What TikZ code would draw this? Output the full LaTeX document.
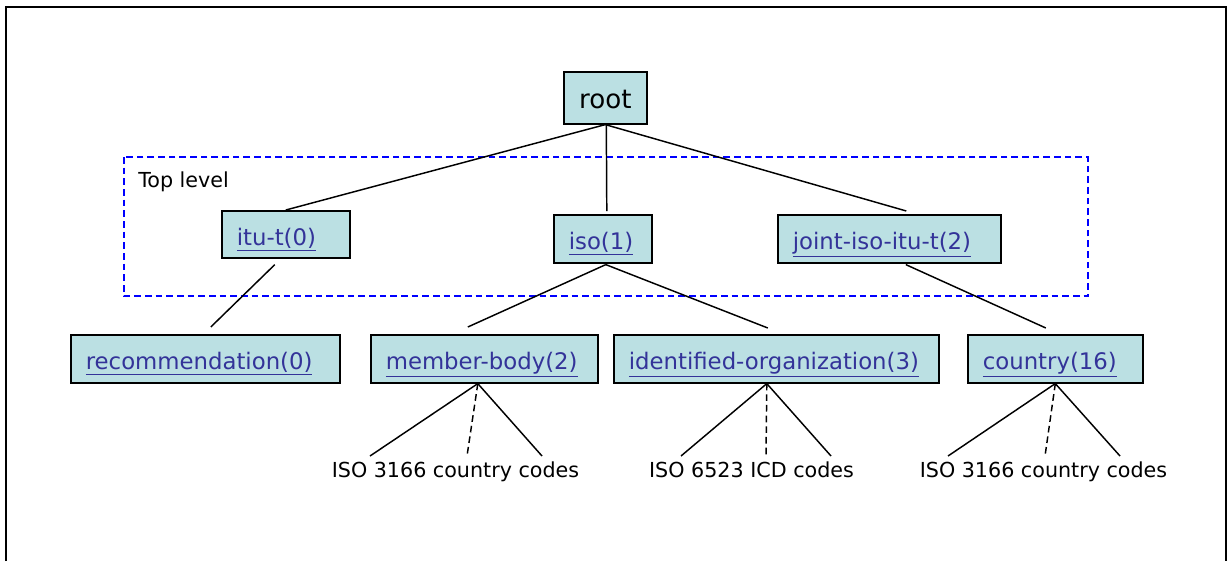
\documentclass[tikz,border=0pt]{standalone}
\usepackage{fontspec}
\setmainfont{DejaVu Sans}
\usepackage{tikz}
\usetikzlibrary{calc, positioning}
\usepackage{xcolor}

\definecolor{oidfill}{HTML}{BBE0E3}
\definecolor{oidlink}{HTML}{333399}
\newcommand{\oidref}[1]{{\color{oidlink}\underline{#1}}}

\begin{document}
\begin{tikzpicture}[x=0.75pt, y=-0.75pt,
            oidbox/.style={
                draw, fill=oidfill,
                line width=1.2pt,
                anchor=north west,
                inner xsep=11.25pt,
                inner ysep=0pt,
                align=left,
                text height=16.5pt,
                text depth=0pt,
                minimum height=36pt,
                font=\fontsize{17.1}{20}\selectfont
            },
            edge/.style={line width=1.1pt},
            hint/.style={line width=1.1pt, dash pattern=on 5pt off 3pt},
            codes/.style={anchor=base, inner sep=0pt, font=\fontsize{15.5}{18}\selectfont}]
    \useasboundingbox (0,0) rectangle (1230,561);
    \draw[line width=1.5pt] (6,561) -- (6,7) -- (1226,7) -- (1226,561);

    % top level frame
    \draw[blue, line width=1.1pt, dash pattern=on 5pt off 3pt] (124,157) rectangle (1088,296);
    \node[codes, anchor=base west] (toplevel) at (138,187) {Top level};

    % nodes
    \node[oidbox, anchor=north west, minimum width=62.25pt, minimum height=39pt, align=center,
          inner xsep=0pt, font=\fontsize{19.6}{22}\selectfont] (root) at (563,71) {root};
    \node[oidbox, text width=73.5pt,  minimum height=35.25pt] (itu) at (221,210) {\oidref{itu-t(0)}};
    \node[oidbox, text width=51pt] (iso) at (553,214) {\oidref{iso(1)}};
    \node[oidbox, text width=144.75pt] (joint) at (777,214) {\oidref{joint-iso-itu-t(2)}};
    \node[oidbox, text width=179.25pt] (rec) at (70,334) {\oidref{recommendation(0)}};
    \node[oidbox, text width=147.75pt] (member) at (370,334) {\oidref{member-body(2)}};
    \node[oidbox, text width=221.25pt] (ident) at (613,334) {\oidref{identified-organization(3)}};
    \node[oidbox, text width=108.75pt] (country) at (967,334) {\oidref{country(16)}};

    \node[codes] (mbcodes) at (455.5,477) {ISO 3166 country codes};
    \node[codes] (iocodes) at (751.5,477) {ISO 6523 ICD codes};
    \node[codes] (cycodes) at (1043.5,477) {ISO 3166 country codes};

    \coordinate (mbl) at (370,456);
    \coordinate (mbm) at (467,456);
    \coordinate (mbr) at (542,456);
    \coordinate (iol) at (681,456);
    \coordinate (iom) at (766,456);
    \coordinate (ior) at (831,456);
    \coordinate (cyl) at (948,456);
    \coordinate (cym) at (1045,456);
    \coordinate (cyr) at (1120,456);

    % connectors
    \draw[edge] (root.south) -- (itu.north);
    \draw[edge] ($(root.south)+(1,0)$) -- ($(iso.north)+(4,-3)$);
    \draw[edge] (root.south) -- ($(joint.north)+(17,-3)$);
    \draw[edge] ($(itu.south)+(-11,6)$) -- ($(rec.north)+(5.5,-7)$);
    \draw[edge] ($(iso.south)+(3,1)$) -- ($(member.north)+(-16.5,-7)$);
    \draw[edge] ($(iso.south)+(3,1)$) -- ($(ident.north)+(-8.5,-6)$);
    \draw[edge] ($(joint.south)+(16.5,1)$) -- ($(country.north)+(-9.5,-6)$);

    \draw[edge] (mbl) -- ($(member.south)+(-6.5,0)$) -- (mbr);
    \draw[hint] ($(member.south)+(-6.5,0)$) -- (mbm);
    \draw[edge] (iol) -- ($(ident.south)+(-9.5,0)$) -- (ior);
    \draw[hint] ($(ident.south)+(-9.5,0)$) -- (iom);
    \draw[edge] (cyl) -- (country.south) -- (cyr);
    \draw[hint] (country.south) -- (cym);
\end{tikzpicture}
\end{document}
